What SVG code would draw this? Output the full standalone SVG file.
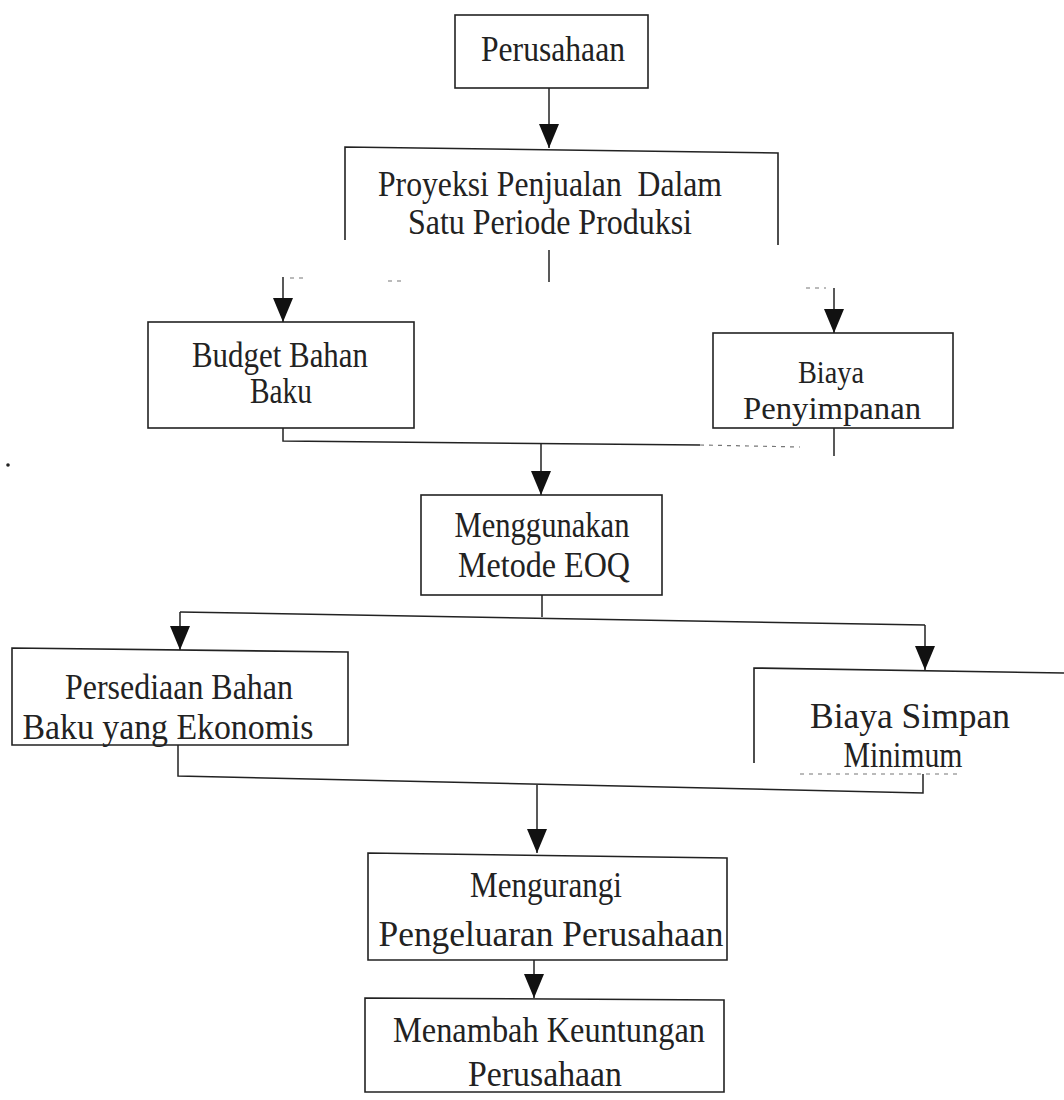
<svg xmlns="http://www.w3.org/2000/svg" width="1064" height="1100" viewBox="0 0 1064 1100">
<defs>
<marker id="ah" markerUnits="userSpaceOnUse" markerWidth="24" markerHeight="20" viewBox="0 0 24 20" refX="24" refY="10" orient="auto">
<path d="M0,0 L24,10 L0,20 Z" fill="#111"/>
</marker>
</defs>
<style>
.box{fill:none;stroke:#222;stroke-width:1.6}
.ln{fill:none;stroke:#222;stroke-width:1.5}
.faint{fill:none;stroke:#777;stroke-width:1.2;stroke-dasharray:4 5}
.t{font-family:"Liberation Serif","Times New Roman",serif;font-size:35px;fill:#222;text-anchor:middle}
.s{font-size:32px}
</style>
<rect width="1064" height="1100" fill="#fff"/>

<g id="n-perusahaan">
<rect class="box" x="455" y="15" width="193" height="73"/>
<text class="t" x="553" y="61" textLength="144" lengthAdjust="spacingAndGlyphs">Perusahaan</text>
</g>

<g id="n-proyeksi">
<path class="box" d="M345,240 V147 L778,153 V245"/>
<text class="t" x="550" y="196" textLength="344" lengthAdjust="spacingAndGlyphs" xml:space="preserve">Proyeksi Penjualan  Dalam</text>
<text class="t" x="550" y="234" textLength="284" lengthAdjust="spacingAndGlyphs">Satu Periode Produksi</text>
</g>

<g id="n-budget">
<rect class="box" x="148" y="322" width="266" height="106"/>
<text class="t" x="280" y="367" textLength="176" lengthAdjust="spacingAndGlyphs">Budget Bahan</text>
<text class="t" x="281" y="403" textLength="62" lengthAdjust="spacingAndGlyphs">Baku</text>
</g>

<g id="n-biaya-penyimpanan">
<rect class="box" x="713" y="333" width="240" height="95"/>
<text class="t s" x="831" y="383" textLength="66" lengthAdjust="spacingAndGlyphs">Biaya</text>
<text class="t s" x="832" y="419" textLength="178" lengthAdjust="spacingAndGlyphs">Penyimpanan</text>
</g>

<g id="n-eoq">
<rect class="box" x="421" y="495" width="241" height="100"/>
<text class="t" x="542" y="537" textLength="175" lengthAdjust="spacingAndGlyphs">Menggunakan</text>
<text class="t" x="544" y="577" textLength="172" lengthAdjust="spacingAndGlyphs">Metode EOQ</text>
</g>

<g id="n-persediaan">
<path class="box" d="M12,648 L348,652 V745 H12 Z"/>
<text class="t" x="179" y="699" textLength="228" lengthAdjust="spacingAndGlyphs">Persediaan Bahan</text>
<text class="t" x="168" y="739" textLength="291" lengthAdjust="spacingAndGlyphs">Baku yang Ekonomis</text>
</g>

<g id="n-biaya-simpan">
<path class="box" d="M754,763 V668 L1064,673"/>
<path class="faint" d="M800,774 H960"/>
<text class="t" x="910" y="728" textLength="200" lengthAdjust="spacingAndGlyphs">Biaya Simpan</text>
<text class="t" x="903" y="767" textLength="119" lengthAdjust="spacingAndGlyphs">Minimum</text>
</g>

<g id="n-mengurangi">
<path class="box" d="M368,853 L727,858 V960 H368 Z"/>
<text class="t" x="546" y="897" textLength="152" lengthAdjust="spacingAndGlyphs">Mengurangi</text>
<text class="t" x="551" y="946" textLength="345" lengthAdjust="spacingAndGlyphs">Pengeluaran Perusahaan</text>
</g>

<g id="n-menambah">
<path class="box" d="M365,998 L724,1000 V1092 H365 Z"/>
<text class="t" x="549" y="1042" textLength="312" lengthAdjust="spacingAndGlyphs">Menambah Keuntungan</text>
<text class="t" x="545" y="1086" textLength="154" lengthAdjust="spacingAndGlyphs">Perusahaan</text>
</g>

<g id="connectors">
<path class="ln" d="M549,88 V148" marker-end="url(#ah)"/>
<path class="ln" d="M549,250 V282"/>
<path class="faint" d="M290,278 H306 M388,281 H402 M806,288 H826"/>
<path class="ln" d="M283,277 V322" marker-end="url(#ah)"/>
<path class="ln" d="M834,288 V333" marker-end="url(#ah)"/>
<path class="ln" d="M283,428 V441 L700,445"/>
<path class="faint" d="M700,445 L800,447"/>
<path class="ln" d="M834,428 V456"/>
<path class="ln" d="M541,443 V495" marker-end="url(#ah)"/>
<path class="ln" d="M542,595 V617"/>
<path class="ln" d="M180,612 L925,625"/>
<path class="ln" d="M180,612 V650" marker-end="url(#ah)"/>
<path class="ln" d="M925,625 V670" marker-end="url(#ah)"/>
<path class="ln" d="M178,745 V776 L923,793 V774"/>
<path class="ln" d="M537,785 V853" marker-end="url(#ah)"/>
<path class="ln" d="M534,960 V998" marker-end="url(#ah)"/>
</g>
<circle cx="8" cy="465" r="1.8" fill="#222"/>
</svg>
